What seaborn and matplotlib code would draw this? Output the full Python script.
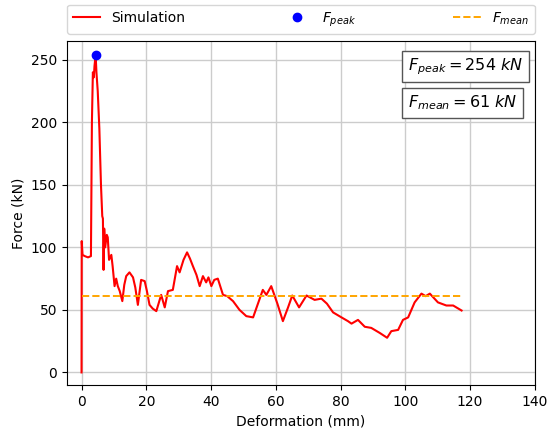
import matplotlib
matplotlib.use('Agg')
import matplotlib.pyplot as plt
import numpy as np
import pandas as pd
import seaborn as sns

# deformacija (mm) ir jega (kN), nuskaityta nuo grafiko
deformacija = [0, 0.05, 0.3, 1, 2, 2.9, 3.2, 3.5, 3.8, 4.0, 4.2, 4.35, 4.6, 5.0, 5.5,
               6.0, 6.4, 6.6, 6.8, 7.0, 7.3, 7.8, 8.1, 8.5, 9.2, 9.6, 10.2, 10.7, 11.2,
               11.8, 12.6, 13.2, 13.8, 14.8, 15.9, 16.6, 17.4, 18.4, 19.5, 20.2, 21, 22,
               23.1, 24.6, 25.7, 26.7, 28.2, 29.5, 30.3, 31.5, 32.6, 33.5, 34.4, 35.5,
               36.5, 37.5, 38.5, 39.2, 40.1, 41, 42.1, 43.7, 45, 46.8, 48.8, 50.9, 53,
               54.5, 56, 57.1, 58.6, 60.5, 62.2, 63.8, 65.1, 67.2, 69.5, 72, 74.1, 75.8,
               77.7, 80.3, 82.3, 83.4, 85.4, 87.5, 89.5, 92.1, 94.4, 95.7, 97.8, 99.3,
               100.9, 102.9, 105, 106.3, 107.6, 110.1, 112.7, 114.8, 117.4]
jega = [0, 105, 94, 93, 92, 93, 200, 240, 236, 245, 250, 254, 240, 225, 195,
        150, 125, 123, 82, 115, 100, 110, 108, 90, 94, 85, 69, 75, 69,
        65, 57, 70, 77, 80, 76, 68, 54, 74, 73, 65, 54, 51,
        49, 62, 52, 65, 66, 85, 80, 90, 96, 91, 85, 78,
        69, 77, 72, 76, 69, 74, 75, 62, 61, 57, 50, 45, 44,
        55, 66, 62, 69, 55, 41, 52, 61.5, 52, 61.5, 58, 59, 55,
        48, 44, 41, 39, 42, 36.5, 35.6, 31.6, 27.7, 33, 34, 42,
        44, 56, 63, 61, 63, 56, 53.5, 53.5, 49.5]

f_peak = 254
f_peak_x = 4.33
f_mean = 61

df = pd.DataFrame({'deformacija': deformacija, 'jega': jega})

plt.figure(figsize=(5.49, 4.32), dpi=100)
ax = plt.axes([0.122, 0.109, 0.852, 0.796])

sns.lineplot(data=df, x='deformacija', y='jega', color='red', sort=False,
             linewidth=1.5, label='Simulation', ax=ax)
ax.plot([f_peak_x], [f_peak], 'o', color='blue', markersize=6, label='$F_{peak}$')
ax.plot([0, deformacija[-1]], [f_mean, f_mean], '--', color='orange',
        linewidth=1.4, label='$F_{mean}$')

ax.set_xlim(-4.5, 140)
ax.set_ylim(-10, 265)
ax.set_xticks(range(0, 141, 20))
ax.set_yticks(range(0, 251, 50))
ax.grid(True, color='#cccccc', linewidth=1)
ax.set_xlabel('Deformation (mm)')
ax.set_ylabel('Force (kN)')

ax.legend(bbox_to_anchor=(0, 1.02, 1, 0.102), loc='lower left', ncol=3,
          mode='expand', borderaxespad=0.)

box = dict(boxstyle='square,pad=0.35', facecolor='white', edgecolor='#555555')
ax.text(0.729, 0.926, '$F_{peak} = 254\\ kN$', transform=ax.transAxes,
        ha='left', va='center', fontsize=11.5, bbox=box)
ax.text(0.729, 0.821, '$F_{mean} = 61\\ kN$', transform=ax.transAxes,
        ha='left', va='center', fontsize=11.5, bbox=box)

plt.savefig('out.png', dpi=100)
